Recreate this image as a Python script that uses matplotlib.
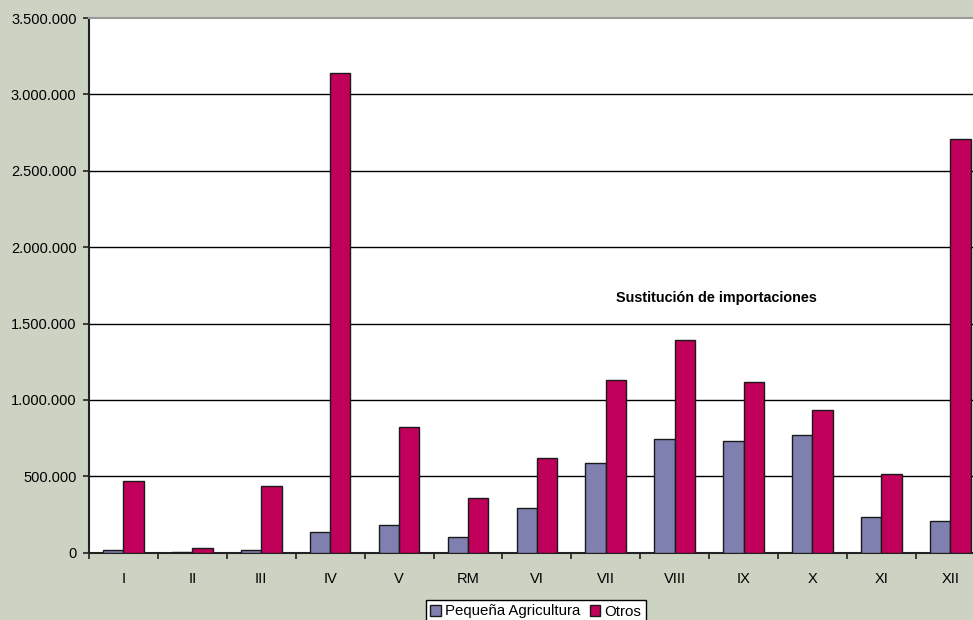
import matplotlib
matplotlib.use("Agg")
import matplotlib.pyplot as plt
import numpy as np
from matplotlib.ticker import FuncFormatter, FixedLocator

categories = ["I", "II", "III", "IV", "V", "RM", "VI", "VII", "VIII", "IX", "X", "XI", "XII"]
pequena = [15000, 4000, 15000, 137000, 181000, 101000, 291000, 584000, 741000, 729000, 772000, 232000, 210000]
otros = [471000, 31000, 438000, 3140000, 824000, 359000, 623000, 1128000, 1395000, 1116000, 934000, 514000, 2705000]
yticks = [0, 500000, 1000000, 1500000, 2000000, 2500000, 3000000, 3500000]

plt.rcParams['font.family'] = ['Liberation Sans', 'DejaVu Sans']

bg = '#cdd3c3'
c_blue = '#8080b0'
c_mag = '#c0005a'

fig = plt.figure(figsize=(9.73, 6.2), dpi=100, facecolor=bg)
ax = fig.add_axes([89/973, 67.3/620, 13*68.9/973, (552.7-18)/620])
ax.set_facecolor('white')

x = np.arange(len(categories))
w = 0.295
ax.bar(x - w/2, pequena, w, color=c_blue, edgecolor='#1a1a1a', linewidth=1.0, label='Pequeña Agricultura', zorder=3)
ax.bar(x + w/2, otros, w, color=c_mag, edgecolor='#1a1a1a', linewidth=1.0, label='Otros', zorder=3)

ax.set_xlim(-0.5, len(categories) - 0.5)
ax.set_ylim(0, 3500000)
ax.set_yticks(yticks)
ax.yaxis.set_major_formatter(FuncFormatter(lambda v, p: f"{int(v):,}".replace(",", ".")))
for yv in yticks[1:-1]:
    ax.axhline(yv, color='black', linewidth=1.0, zorder=1)

ax.set_xticks(x)
ax.set_xticklabels(categories)
ax.xaxis.set_minor_locator(FixedLocator(np.arange(-0.5, len(categories), 1.0)))
ax.tick_params(axis='x', which='major', length=0, pad=14, labelsize=10.5)
ax.tick_params(axis='x', which='minor', length=4, width=1.2, direction='out', color='#222222')
ax.tick_params(axis='y', length=4, width=1.2, direction='out', pad=5, labelsize=10.5, color='#222222')

for s in ['right']:
    ax.spines[s].set_visible(False)
ax.spines['top'].set_color('#999999')
ax.spines['top'].set_linewidth(1.5)
ax.spines['left'].set_color('#222222')
ax.spines['left'].set_linewidth(1.5)
ax.spines['bottom'].set_color('#222222')
ax.spines['bottom'].set_linewidth(1.5)

ax.text(8.61, 1670000, 'Sustitución de importaciones', ha='center', va='center',
        fontsize=10.4, fontweight='bold', zorder=4)

leg = fig.legend(loc='upper center', bbox_to_anchor=(536/973, 1 - 600/620), ncol=2,
                 frameon=True, fancybox=False, edgecolor='black', framealpha=1,
                 fontsize=10.8, handlelength=0.7, handleheight=0.7, handletextpad=0.3,
                 columnspacing=0.6, borderpad=0.3, borderaxespad=0)
leg.get_frame().set_linewidth(1.0)

fig.savefig('out.png', dpi=100, facecolor=bg)
